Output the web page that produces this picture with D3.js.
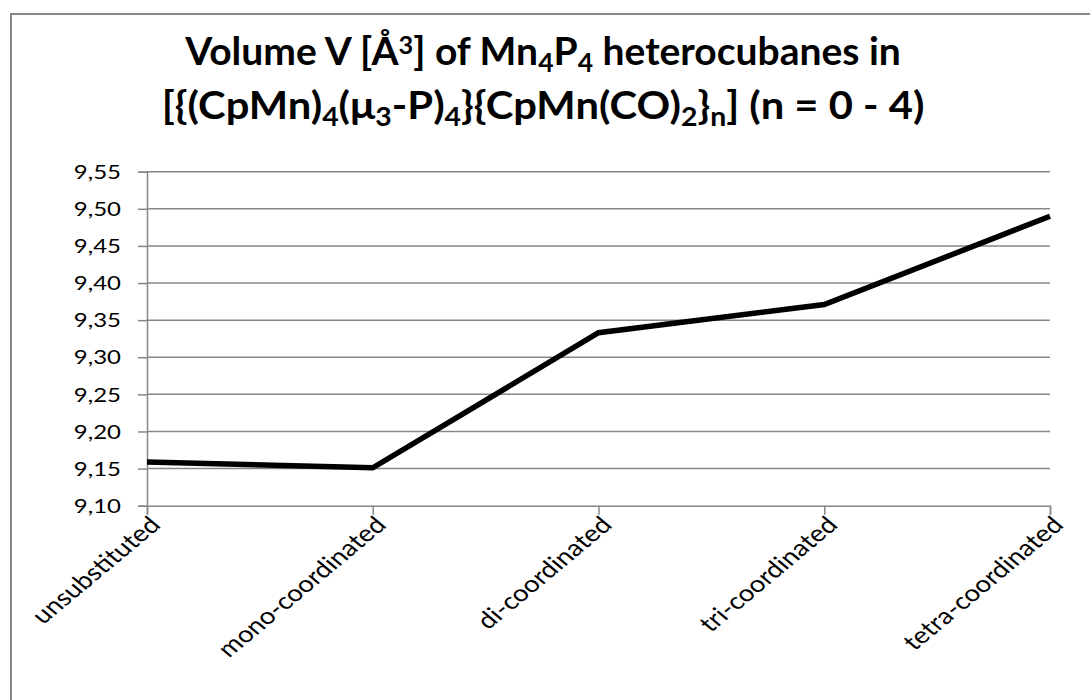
<!DOCTYPE html>
<html>
<head>
<meta charset="utf-8">
<script src="https://cdn.jsdelivr.net/npm/d3@7"></script>
<style>
  html, body { margin: 0; padding: 0; background: #ffffff; }
  svg { display: block; }
</style>
</head>
<body>
<svg id="chart" width="1090" height="700"></svg>
<script>
// Mn4P4 cubane volume per substitution degree
const categories = ["unsubstituted", "mono-coordinated", "di-coordinated", "tri-coordinated", "tetra-coordinated"];
const volumes = [9.159, 9.151, 9.333, 9.371, 9.490];
const yTicks = [9.10, 9.15, 9.20, 9.25, 9.30, 9.35, 9.40, 9.45, 9.50, 9.55];

const W = 1090, H = 700;
const plot = { left: 147, right: 1050, top: 171.7, bottom: 505.7 };
const gridColor = "#878787";
const font = "Lato, 'Open Sans', sans-serif";
const stretch = 1.2;   // horizontal widening of the axis label glyphs

const svg = d3.select("#chart");

// chart frame
svg.append("rect")
  .attr("x", 11).attr("y", 14)
  .attr("width", W + 20).attr("height", H + 20)
  .attr("fill", "#fff")
  .attr("stroke", gridColor).attr("stroke-width", 2);

const x = d3.scalePoint().domain(categories).range([plot.left, plot.right]);
const y = d3.scaleLinear().domain([9.10, 9.55]).range([plot.bottom, plot.top]);

const locale = d3.formatLocale({ decimal: ",", thousands: ".", grouping: [3], currency: ["", " €"] });
const fmt = locale.format(".2f");

// horizontal gridlines
svg.append("g")
  .selectAll("line")
  .data(yTicks.slice(1))
  .join("line")
  .attr("x1", plot.left).attr("x2", plot.right)
  .attr("y1", d => y(d)).attr("y2", d => y(d))
  .attr("stroke", gridColor).attr("stroke-width", 1.5);

// y axis
const yAxis = svg.append("g")
  .attr("transform", `translate(${plot.left},0)`)
  .call(d3.axisLeft(y).tickValues(yTicks).tickFormat("").tickSize(9));
yAxis.select(".domain").attr("stroke", gridColor).attr("stroke-width", 1.5);
yAxis.selectAll(".tick line").attr("stroke", gridColor).attr("stroke-width", 1.5);

svg.append("g")
  .selectAll("text")
  .data(yTicks)
  .join("text")
  .attr("transform", d => `translate(121,${y(d)}) scale(${stretch},1)`)
  .attr("text-anchor", "end")
  .attr("dy", "0.36em")
  .attr("font-family", font).attr("font-size", 20).attr("fill", "#000")
  .text(d => fmt(d));

// x axis
const xAxis = svg.append("g")
  .attr("transform", `translate(0,${plot.bottom})`)
  .call(d3.axisBottom(x).tickSize(9).tickFormat(""));
xAxis.select(".domain").attr("stroke", gridColor).attr("stroke-width", 1.5);
xAxis.selectAll(".tick line").attr("stroke", gridColor).attr("stroke-width", 1.5);

// rotated category labels
svg.append("g")
  .selectAll("text")
  .data(categories)
  .join("text")
  .attr("transform", d => `translate(${x(d) + 8},${plot.bottom + 15}) scale(${stretch},1) rotate(-45)`)
  .attr("text-anchor", "end")
  .attr("dy", "0.35em")
  .attr("font-family", font).attr("font-size", 23).attr("fill", "#000")
  .text(d => d);

// data line
const line = d3.line()
  .x((d, i) => x(categories[i]))
  .y(d => y(d));
svg.append("path")
  .datum(volumes)
  .attr("d", line)
  .attr("fill", "none")
  .attr("stroke", "#000")
  .attr("stroke-width", 5.5)
  .attr("stroke-linejoin", "miter");

// two-line title with sub/superscripts
function addRuns(parent, runs) {
  runs.forEach(([t, kind]) => {
    const ts = parent.append("tspan").text(t);
    if (kind === "sub") ts.attr("font-size", "68%").attr("baseline-shift", "-26%");
    if (kind === "sup") ts.attr("font-size", "65%").attr("baseline-shift", "45%");
  });
}
function titleLine(cy, sx, runs) {
  const t = svg.append("text")
    .attr("transform", `translate(543,${cy}) scale(${sx},1)`)
    .attr("text-anchor", "middle")
    .attr("font-family", font).attr("font-weight", "bold")
    .attr("font-size", 39).attr("fill", "#000");
  addRuns(t, runs);
}
titleLine(65, 1.0, [["Volume V [Å"], ["3", "sup"], ["] of Mn"], ["4", "sub"], ["P"], ["4", "sub"], [" heterocubanes in"]]);
titleLine(119, 1.07, [["[{(CpMn)"], ["4", "sub"], ["(μ"], ["3", "sub"], ["-P)"], ["4", "sub"], ["}{CpMn(CO)"], ["2", "sub"], ["}"], ["n", "sub"], ["] (n = 0 - 4)"]]);
</script>
</body>
</html>
